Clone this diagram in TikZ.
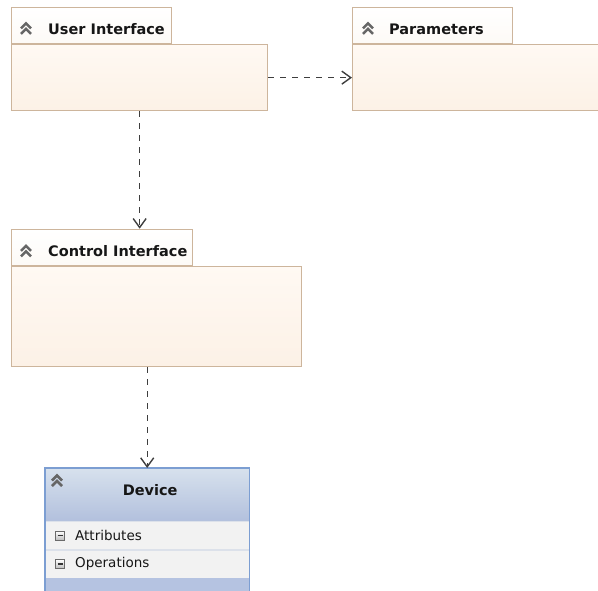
\documentclass[tikz,border=0pt]{standalone}
\usepackage{xcolor}
\usepackage{fontspec}
\setmainfont{DejaVu Sans}
\usepackage{tikz}
\usetikzlibrary{positioning,arrows.meta,calc}

\definecolor{tabline}{HTML}{CDB59C}
\definecolor{tabbot}{HTML}{FDFAF6}
\definecolor{pkgtop}{HTML}{FFF9F3}
\definecolor{pkgbot}{HTML}{FCF1E6}
\definecolor{devline}{HTML}{7C9ED2}
\definecolor{devtop}{HTML}{D7E1ED}
\definecolor{devbot}{HTML}{B2C0DD}
\definecolor{rowfill}{HTML}{F2F2F2}
\definecolor{rowline}{HTML}{DCE1EA}
\definecolor{stripfill}{HTML}{B5C3E1}
\definecolor{chevgray}{HTML}{666666}
\definecolor{icongray}{HTML}{6A6A6A}
\definecolor{arrgray}{HTML}{3E3E3E}
\definecolor{txt}{HTML}{161616}

% double chevron of a collapsible box
\newcommand{\chevron}[1]{%
	\begin{scope}[shift={(#1)}]
		\draw[chev] (-5,-0.5) -- (0,-5.5) -- (5,-0.5);
		\draw[chev] (-5,5) -- (0,0) -- (5,5);
	\end{scope}}
% small minus box in front of a compartment
\newcommand{\minusicon}[1]{%
	\begin{scope}[shift={(#1)}]
		\draw[draw=icongray, line width=1.1pt, top color=white, bottom color=icongray!45] (-4.5,-4.5) rectangle (4.5,4.5);
		\draw[line width=1.6pt, black!80] (-2.5,0) -- (2.5,0);
	\end{scope}}

\begin{document}
\begin{tikzpicture}[x=1pt, y=-1pt, font=\fontsize{14.5}{17}\selectfont, text=txt,
		pkg/.style={draw=tabline, line width=1.3pt, top color=pkgtop, bottom color=pkgbot, anchor=north west, inner sep=0pt},
		tab/.style={draw=tabline, line width=1.3pt, top color=white, bottom color=tabbot, minimum height=36pt, minimum width=160pt, inner sep=0pt},
		title/.style={font=\fontsize{14.5}{17}\selectfont\bfseries, inner sep=0pt},
		chev/.style={line width=2.6pt, draw=chevgray},
		dep/.style={draw=arrgray, line width=1.4pt, dash pattern=on 6pt off 6pt, -{Straight Barb[length=9pt,width=13pt,line width=1.4pt]}},
		row/.style={draw=rowline, fill=rowfill, minimum height=28pt, inner xsep=30pt, text width=144pt, align=left, font=\fontsize{13.5}{16}\selectfont}]
	\clip (0,0) rectangle (598,590);

	% packages
	\node[pkg, minimum width=256pt, minimum height=66pt] (ui) at (11,44) {};
	\node[tab, above right=0pt and 0pt of ui.north west] (uitab) {};
	\node[title, right=37pt of uitab.west, yshift=-3.5pt] (uilabel) {User Interface};
	\chevron{[xshift=15pt,yshift=-3.5pt]uitab.west}

	\node[pkg, minimum width=270pt, minimum height=66pt] (par) at (352,44) {};
	\node[tab, above right=0pt and 0pt of par.north west] (partab) {};
	\node[title, right=37pt of partab.west, yshift=-3.5pt] (parlabel) {Parameters};
	\chevron{[xshift=16pt,yshift=-3.5pt]partab.west}

	\node[pkg, minimum width=290pt, minimum height=100pt] (ctrl) at (11,266) {};
	\node[tab, minimum width=181pt, above right=0pt and 0pt of ctrl.north west] (ctrltab) {};
	\node[title, right=37pt of ctrltab.west, yshift=-3.5pt] (ctrllabel) {Control Interface};
	\chevron{[xshift=15pt,yshift=-4pt]ctrltab.west}

	% class
	\node[anchor=north west, minimum width=204pt, minimum height=53pt, inner sep=0pt, top color=devtop, bottom color=devbot] (dev) at (45,468) {};
	\node[title] (devlabel) at (dev.center) [xshift=3pt, yshift=5pt] {Device};
	\chevron{[xshift=12pt,yshift=-13pt]dev.north west}
	\node[row, below=0pt of dev] (attr) {Attributes};
	\node[row, below=0pt of attr] (ops) {Operations};
	\node[minimum width=204pt, minimum height=20pt, inner sep=0pt, fill=stripfill, below=0pt of ops] (foot) {};
	\draw[devline, line width=1.3pt] (foot.south west) -- (dev.north west) -- (dev.north east) -- (foot.south east);
	\minusicon{[xshift=15pt]attr.west}
	\minusicon{[xshift=15pt]ops.west}

	% dependencies
	\draw[dep] (ui.east) -- (par.west);
	\draw[dep] (ui.south) -- (ui.south |- ctrltab.north);
	\draw[dep] (ctrl.south -| dev.north) -- (dev.north);
\end{tikzpicture}
\end{document}
